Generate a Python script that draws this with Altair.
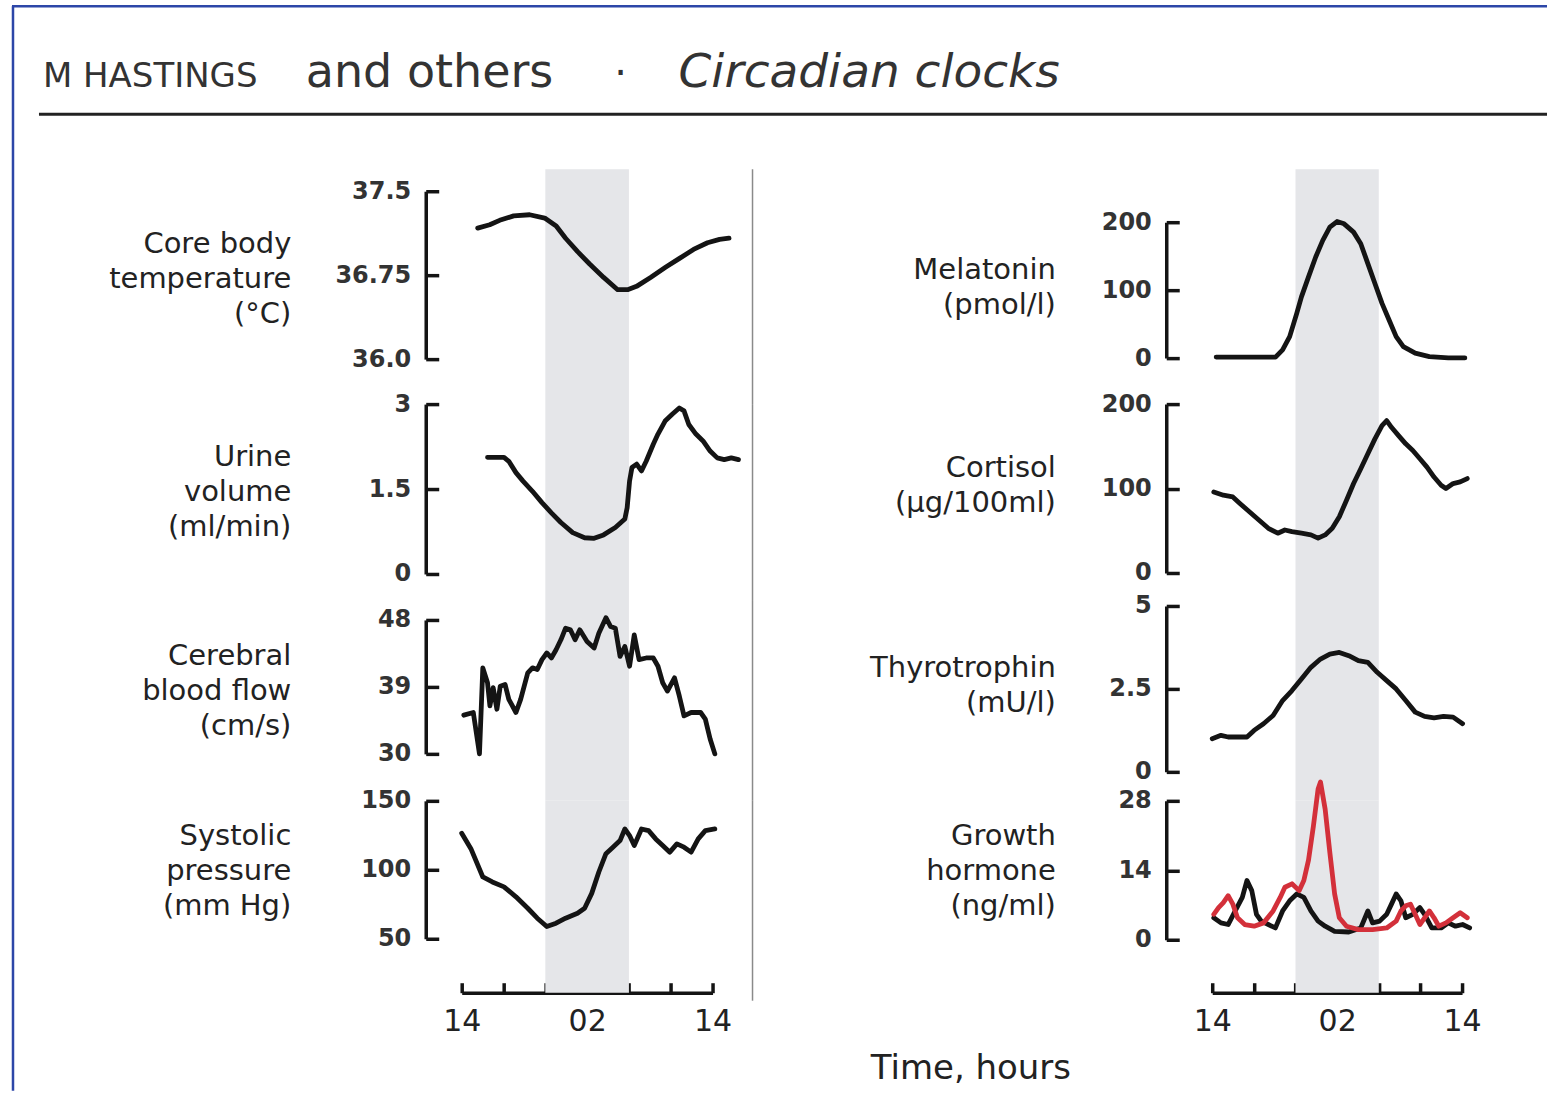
import altair as alt
import pandas as pd

# ---------------- data ----------------
HOUR_TICKS = [0, 4, 8, 12, 16, 20, 24]
HOUR_LABEL_VALUES = [0, 12, 24]
HOUR_LABELS = ["14", "02", "14"]
NIGHT_START = [8]
NIGHT_END = [16]

HEADER_PARTS = ["M HASTINGS", "and others", "\u00b7", "Circadian clocks"]
X_TITLE = "Time, hours"

temp_title = ["Core body", "temperature", "(\u00b0C)"]
temp_ticks = [36.0, 36.75, 37.5]
temp_tick_labels = ["36.0", "36.75", "37.5"]
temp_h = [1.53, 2.68, 3.63, 4.97, 6.50, 7.94, 9.04, 9.94, 11.09, 12.24, 13.58,
          14.92, 15.87, 16.73, 18.07, 19.50, 20.84, 22.18, 23.52, 24.67, 25.58]
temp_v = [37.17, 37.20, 37.24, 37.28, 37.29, 37.26, 37.19, 37.08, 36.96, 36.85, 36.73,
          36.62, 36.62, 36.65, 36.73, 36.82, 36.90, 36.98, 37.04, 37.07, 37.08]

urine_title = ["Urine", "volume", "(ml/min)"]
urine_ticks = [0, 1.5, 3]
urine_tick_labels = ["0", "1.5", "3"]
urine_h = [2.47, 4.05, 4.51, 5.19, 5.87, 6.77, 7.68, 8.58, 9.49, 10.62, 11.76, 12.67,
           13.57, 14.70, 15.61, 15.83, 16.06, 16.29, 16.74, 17.20, 17.65, 18.33, 18.78,
           19.46, 20.14, 20.82, 21.27, 21.73, 22.41, 23.09, 23.77, 24.45, 25.12, 25.80, 26.48]
urine_v = [2.06, 2.06, 1.99, 1.79, 1.64, 1.46, 1.26, 1.08, 0.91, 0.73, 0.64, 0.63,
           0.69, 0.82, 0.97, 1.17, 1.64, 1.88, 1.94, 1.82, 1.99, 2.29, 2.47,
           2.70, 2.82, 2.93, 2.88, 2.64, 2.47, 2.35, 2.17, 2.05, 2.02, 2.05, 2.02]

cbf_title = ["Cerebral", "blood flow", "(cm/s)"]
cbf_ticks = [30, 39, 48]
cbf_tick_labels = ["30", "39", "48"]
cbf_h = [0.20, 1.11, 1.70, 2.02, 2.47, 2.70, 3.01, 3.37, 3.69, 4.15, 4.51, 5.19, 5.64,
         6.32, 6.77, 7.23, 7.68, 8.14, 8.58, 9.03, 9.49, 9.94, 10.40, 10.85, 11.30,
         11.99, 12.67, 13.12, 13.80, 14.25, 14.70, 15.15, 15.61, 16.06, 16.51, 16.97,
         17.65, 18.33, 18.78, 19.23, 19.68, 20.36, 20.82, 21.27, 21.95, 22.86, 23.31,
         23.77, 24.22]
cbf_v = [35.2, 35.56, 30.0, 41.56, 39.56, 36.44, 38.89, 36.0, 39.1, 39.33, 37.33, 35.56,
         37.33, 40.89, 41.56, 41.33, 42.67, 43.56, 42.89, 44.0, 45.33, 46.89, 46.67, 45.33,
         46.67, 45.11, 44.22, 46.22, 48.3, 47.11, 46.89, 43.11, 44.44, 41.78, 46.0, 42.67,
         42.89, 42.89, 41.78, 39.56, 38.44, 40.22, 37.78, 35.11, 35.56, 35.56, 34.67,
         32.0, 30.0]

sys_title = ["Systolic", "pressure", "(mm Hg)"]
sys_ticks = [50, 100, 150]
sys_tick_labels = ["50", "100", "150"]
sys_h = [0.0, 0.88, 2.02, 2.93, 4.05, 5.19, 6.32, 7.23, 8.14, 9.03, 9.94, 11.08, 11.76,
         12.44, 13.12, 13.80, 14.47, 15.15, 15.61, 16.06, 16.51, 17.20, 17.88, 18.56,
         19.23, 19.91, 20.59, 21.27, 21.95, 22.63, 23.31, 24.22]
sys_v = [126.5, 115.3, 94.8, 91.2, 87.6, 80.4, 72.1, 64.9, 58.9, 61.3, 64.9, 68.5, 72.1,
         82.9, 98.4, 111.7, 116.4, 121.2, 129.6, 124.8, 117.6, 129.6, 128.4, 122.4,
         117.6, 112.8, 118.8, 116.4, 112.8, 122.4, 128.4, 129.6]

mel_title = ["Melatonin", "(pmol/l)"]
mel_ticks = [0, 100, 200]
mel_tick_labels = ["0", "100", "200"]
mel_h = [0.38, 2.21, 4.03, 6.08, 6.76, 7.44, 8.12, 8.57, 9.25, 9.94, 10.62, 11.30, 11.99,
         12.67, 13.58, 14.27, 14.95, 15.63, 16.31, 16.99, 17.67, 18.36, 19.50, 20.86,
         22.68, 24.27]
mel_v = [1.5, 1.5, 1.5, 1.5, 12.2, 31.6, 65.9, 90.2, 119.5, 148.8, 173.3, 192.7, 201.0,
         197.6, 185.4, 168.4, 139.1, 109.8, 80.5, 56.1, 31.6, 17.0, 7.3, 2.3, 0.5, 0.3]

cort_title = ["Cortisol", "(\u00b5g/100ml)"]
cort_ticks = [0, 100, 200]
cort_tick_labels = ["0", "100", "200"]
cort_h = [0.15, 1.07, 1.98, 2.66, 3.57, 4.48, 5.39, 6.30, 6.98, 7.66, 8.57, 9.48, 10.17,
          10.85, 11.53, 12.21, 12.90, 13.58, 14.27, 14.95, 15.63, 16.31, 16.76, 17.22,
          17.90, 18.59, 19.27, 19.95, 20.63, 21.31, 21.99, 22.45, 23.14, 23.82, 24.50]
cort_v = [96, 92.1, 90.1, 82.4, 72.5, 62.7, 52.9, 47.1, 50.9, 48.9, 47.1, 45.1, 41.2,
          45.1, 52.9, 66.6, 86.2, 105.9, 123.5, 141.2, 158.8, 174.5, 180.4, 172.5,
          162.7, 152.9, 145.1, 135.3, 125.4, 113.6, 103.9, 100, 105.9, 107.8, 111.8]

tsh_title = ["Thyrotrophin", "(mU/l)"]
tsh_ticks = [0, 2.5, 5]
tsh_tick_labels = ["0", "2.5", "5"]
tsh_h = [0.0, 0.84, 1.53, 2.43, 3.34, 4.02, 4.93, 5.85, 6.76, 7.66, 8.57, 9.48, 10.40,
         11.30, 12.21, 13.12, 14.04, 14.95, 15.85, 16.76, 17.67, 18.59, 19.50, 20.40,
         21.31, 22.22, 23.14, 24.05]
tsh_v = [1.0, 1.1, 1.05, 1.05, 1.05, 1.25, 1.45, 1.7, 2.15, 2.45, 2.8, 3.15, 3.4, 3.55,
         3.6, 3.5, 3.35, 3.3, 3.0, 2.75, 2.5, 2.15, 1.8, 1.67, 1.63, 1.67, 1.65, 1.45]

gh_title = ["Growth", "hormone", "(ng/ml)"]
gh_ticks = [0, 14, 28]
gh_tick_labels = ["0", "14", "28"]
gh_black_h = [0.15, 0.84, 1.53, 2.21, 2.89, 3.34, 3.80, 4.25, 4.71, 5.39, 6.07, 6.76, 7.44,
              8.12, 8.80, 9.48, 10.17, 10.85, 11.76, 13.12, 14.27, 14.95, 15.40, 16.08,
              16.76, 17.22, 17.67, 18.13, 18.59, 19.27, 19.95, 20.40, 21.09, 21.99, 22.68,
              23.37, 24.05, 24.73]
gh_black_v = [4.43, 3.40, 3.07, 5.80, 8.53, 11.95, 9.90, 5.13, 3.75, 3.07, 2.38, 5.80, 7.85,
              9.23, 8.53, 5.80, 3.75, 2.73, 1.70, 1.56, 2.38, 5.80, 3.40, 3.75, 5.13, 7.18,
              9.23, 7.85, 4.43, 5.13, 6.48, 5.13, 2.38, 2.38, 3.40, 2.73, 3.07, 2.38]
gh_red_h = [0.15, 0.61, 1.07, 1.53, 1.98, 2.43, 3.12, 4.03, 4.93, 5.85, 6.53, 6.98, 7.66,
            8.35, 8.80, 9.25, 9.72, 10.17, 10.40, 10.85, 11.31, 11.76, 12.21, 12.90, 14.04,
            15.40, 16.76, 17.67, 18.13, 18.59, 19.04, 19.50, 19.95, 20.40, 20.86, 21.31,
            21.77, 22.45, 23.14, 23.82, 24.50]
gh_red_v = [5.13, 6.48, 7.50, 8.88, 7.18, 4.43, 3.07, 2.73, 3.40, 5.80, 8.53, 10.58, 11.28,
            9.90, 11.95, 16.05, 22.9, 30.4, 31.8, 26.3, 17.4, 9.23, 4.43, 2.73, 2.05, 2.05,
            2.38, 3.75, 5.80, 6.83, 7.18, 5.13, 3.07, 4.43, 5.80, 4.43, 2.73, 3.40, 4.43,
            5.45, 4.43]

# ---------------- styling / layout ----------------
FONT = "DejaVu Sans"
INK = "#141414"
BAND = "#e5e6e9"
RED = "#d3303a"
ROW_H = [235, 197, 200, 192]
COL_W = [251, 250]
AXIS_OFF = [36, 46]
TITLE_X = [-135, -111]


def label_expr(vals, labels):
    expr = "''"
    for v, l in reversed(list(zip(vals, labels))):
        expr = f"(abs(datum.value - ({v})) < 1e-9 ? '{l}' : {expr})"
    return expr


def make_panel(col, row, series, ydom, yrange, yticks, ylabels, title, title_y,
               bottom=False, x_title=None, extras=()):
    W, H = COL_W[col], ROW_H[row]
    xs = alt.Scale(domain=[0, 24], nice=False, zero=False)
    ys = alt.Scale(domain=ydom, range=yrange, nice=False, zero=False)

    if bottom:
        lab_kwargs = dict(
            orient="bottom", values=HOUR_LABEL_VALUES,
            labelExpr=label_expr(HOUR_LABEL_VALUES, HOUR_LABELS),
            ticks=False, tickSize=0, domain=True, domainColor=INK, domainWidth=3.5,
            labelPadding=14, labelFont=FONT, labelFontSize=30, labelColor="#222",
            labelFlush=False, labelOverlap=False, grid=False)
        if x_title:
            lab_kwargs.update(title=x_title, titleX=-242, titleY=76, titleAlign="center",
                              titleBaseline="middle", titleFont=FONT, titleFontSize=34,
                              titleFontWeight="normal", titleColor="#222")
        else:
            lab_kwargs.update(title=None)
        x_lab_axis = alt.Axis(**lab_kwargs)
        x_tick_axis = alt.Axis(orient="top", offset=-H, values=HOUR_TICKS, ticks=True,
                               tickSize=10, tickWidth=3.5, tickColor=INK, domain=False,
                               labels=False, grid=False, title=None)
    else:
        x_lab_axis = None
        x_tick_axis = None

    band_df = pd.DataFrame({"start": NIGHT_START, "end": NIGHT_END})
    band = alt.Chart(band_df).mark_rect(color=BAND).encode(
        x=alt.X("start:Q", scale=xs, axis=x_lab_axis),
        x2="end:Q",
    )
    layers = [band]
    layers.extend(extras)

    y_axis_left = alt.Axis(
        orient="left", offset=AXIS_OFF[col], values=yticks,
        labelExpr=label_expr(yticks, ylabels), ticks=False, tickSize=0,
        domain=True, domainColor=INK, domainWidth=3.5, grid=False,
        labelFont=FONT, labelFontSize=24, labelFontWeight="bold", labelColor="#333",
        labelPadding=15, labelOverlap=False, labelFlush=False,
        title=title, titleAngle=0, titleAlign="right", titleBaseline="top",
        titleX=TITLE_X[col], titleY=title_y, titleFont=FONT, titleFontSize=29,
        titleFontWeight="normal", titleColor="#222", titleLineHeight=35,
    )
    for i, (hh, vv, colr) in enumerate(series):
        df = pd.DataFrame({"h": hh, "v": vv})
        layers.append(
            alt.Chart(df).mark_line(color=colr, strokeWidth=4.8, strokeJoin="round",
                                    strokeCap="round", clip=False).encode(
                x=alt.X("h:Q", scale=xs, axis=x_tick_axis if i == 0 else None),
                y=alt.Y("v:Q", scale=ys, axis=y_axis_left if i == 0 else None),
            )
        )
    h0, v0, _ = series[0]
    tick_df = pd.DataFrame({"h": h0, "v": v0})
    layers.append(
        alt.Chart(tick_df).mark_line(opacity=0).encode(
            x=alt.X("h:Q", scale=xs, axis=None),
            y=alt.Y("v:Q", scale=ys, axis=alt.Axis(
                orient="right", offset=-(W + AXIS_OFF[col]), values=yticks,
                labels=False, domain=False, ticks=True, tickSize=13, tickWidth=3.5,
                tickColor=INK, grid=False, title=None)),
        )
    )
    return alt.layer(*layers).resolve_axis(x="independent", y="independent").properties(
        width=W, height=H)


def divider(H):
    return alt.Chart().mark_rule(color="#8a8a8a", strokeWidth=1.5).encode(
        x=alt.value(291), y=alt.value(0), y2=alt.value(H))


header = [
    alt.Chart().mark_rule(color="#2c46a8", strokeWidth=2.5).encode(
        x=alt.value(-450), x2=alt.value(1086), y=alt.value(-163)),
    alt.Chart().mark_rule(color="#2c46a8", strokeWidth=2.5).encode(
        x=alt.value(-449), y=alt.value(-163), y2=alt.value(922)),
    alt.Chart().mark_rule(color="#222", strokeWidth=3).encode(
        x=alt.value(-423), x2=alt.value(1086), y=alt.value(-55)),
    alt.Chart().mark_text(text=HEADER_PARTS[0], font=FONT, fontSize=34, align="left",
                          baseline="alphabetic", color="#333").encode(
        x=alt.value(-419), y=alt.value(-82)),
    alt.Chart().mark_text(text=HEADER_PARTS[1], font=FONT, fontSize=46, align="left",
                          baseline="alphabetic", color="#333").encode(
        x=alt.value(-156), y=alt.value(-82)),
    alt.Chart().mark_text(text=HEADER_PARTS[2], font=FONT, fontSize=40,
                          align="center", baseline="alphabetic", color="#333").encode(
        x=alt.value(159), y=alt.value(-82)),
    alt.Chart().mark_text(text=HEADER_PARTS[3], font=FONT, fontSize=47, fontStyle="italic",
                          align="left", baseline="alphabetic", color="#333").encode(
        x=alt.value(217), y=alt.value(-82)),
]

p_temp = make_panel(0, 0, [(temp_h, temp_v, INK)], [36.0, 37.5], [190, 22],
                    temp_ticks, temp_tick_labels, temp_title, 60,
                    extras=[divider(ROW_H[0])] + header)
p_mel = make_panel(1, 0, [(mel_h, mel_v, INK)], [0, 200], [189, 53],
                   mel_ticks, mel_tick_labels, mel_title, 86)
p_urine = make_panel(0, 1, [(urine_h, urine_v, INK)], [0, 3], [170, 0],
                     urine_ticks, urine_tick_labels, urine_title, 38,
                     extras=[divider(ROW_H[1])])
p_cort = make_panel(1, 1, [(cort_h, cort_v, INK)], [0, 200], [169, 0],
                    cort_ticks, cort_tick_labels, cort_title, 49)
p_cbf = make_panel(0, 2, [(cbf_h, cbf_v, INK)], [30, 48], [153, 19],
                   cbf_ticks, cbf_tick_labels, cbf_title, 41,
                   extras=[divider(ROW_H[2])])
p_tsh = make_panel(1, 2, [(tsh_h, tsh_v, INK)], [0, 5], [171, 5],
                   tsh_ticks, tsh_tick_labels, tsh_title, 53)
p_sys = make_panel(0, 3, [(sys_h, sys_v, INK)], [50, 150], [138, 0],
                   sys_ticks, sys_tick_labels, sys_title, 21, bottom=True,
                   extras=[divider(ROW_H[3] + 8)])
p_gh = make_panel(1, 3, [(gh_black_h, gh_black_v, INK), (gh_red_h, gh_red_v, RED)],
                  [0, 28], [139, 0], gh_ticks, gh_tick_labels, gh_title, 21,
                  bottom=True, x_title=X_TITLE)

chart = alt.concat(
    p_temp, p_mel, p_urine, p_cort, p_cbf, p_tsh, p_sys, p_gh,
    columns=2, spacing={"row": 0, "column": 500}, bounds="flush", align="none",
).properties(
    padding={"left": 10, "top": 4, "right": 0, "bottom": 0},
    background="white",
).configure_view(stroke=None)

chart.save("out.html", embed_options={"renderer": "svg", "actions": False})
